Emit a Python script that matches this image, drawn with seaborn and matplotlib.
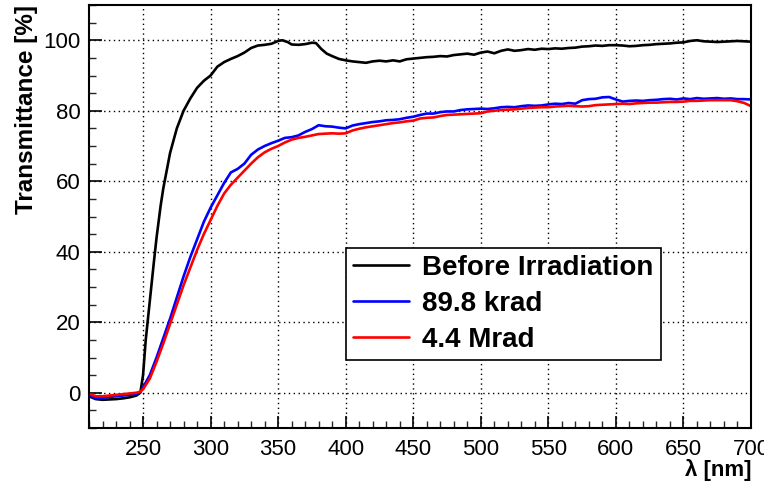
import numpy as np
import pandas as pd
import matplotlib
matplotlib.use("Agg")
import matplotlib.pyplot as plt
from matplotlib.ticker import MultipleLocator
import seaborn as sns

# ---------------- data ----------------
series_names = ["Before Irradiation", "89.8 krad", "4.4 Mrad"]
series_colors = ["black", "#0000ff", "#ff0000"]

wl_before = [210, 215, 220, 225, 230, 235, 240, 245,
             248, 250, 252, 255, 258, 260, 263, 265, 268, 270,
             275, 280, 285, 290, 295, 300, 305, 310, 315, 320, 325, 330, 335, 340, 345, 350,
             353, 357, 360, 365, 370, 375, 378, 382, 386, 390, 395, 400,
             405, 410, 415, 420, 425, 430, 435, 440, 445, 450,
             455, 460, 465, 470, 475, 480, 485, 490, 495, 500,
             505, 510, 515, 520, 525, 530, 535, 540, 545, 550,
             555, 560, 565, 570, 575, 580, 585, 590, 595, 600,
             605, 610, 615, 620, 625, 630, 635, 640, 645, 650,
             655, 660, 665, 670, 675, 680, 685, 690, 695, 700]
t_before = [-1.0, -1.8, -2.0, -1.9, -1.8, -1.6, -1.3, -0.8,
            0.0, 5, 15, 26, 37, 44, 53, 58, 64, 68,
            75, 80, 83.5, 86.5, 88.5, 90, 92.5, 93.8, 94.7, 95.5, 96.5, 97.8, 98.5, 98.7, 99.0, 99.8,
            100, 99.5, 98.8, 98.7, 98.9, 99.3, 99.2, 97.5, 96.2, 95.5, 94.7, 94.3,
            94.0, 93.8, 93.6, 94.0, 94.2, 94.0, 94.3, 94.0, 94.6, 94.8,
            95.0, 95.2, 95.3, 95.5, 95.4, 95.8, 96.0, 96.2, 95.9, 96.5,
            96.8, 96.3, 97.0, 97.4, 97.0, 97.2, 97.5, 97.3, 97.6, 97.5,
            97.7, 97.6, 97.8, 97.9, 98.2, 98.3, 98.5, 98.4, 98.6, 98.6,
            98.5, 98.3, 98.4, 98.6, 98.7, 98.9, 99.0, 99.1, 99.3, 99.4,
            99.8, 100.0, 99.7, 99.6, 99.5, 99.6, 99.7, 99.8, 99.7, 99.6]

wl_irr = [210, 215, 220, 225, 230, 235, 240, 245, 248,
          250, 255, 260, 265, 270, 275, 280, 285, 290, 295,
          300, 305, 310, 315, 320, 325, 330, 335, 340, 345,
          350, 355, 360, 365, 370, 375, 380, 385, 390, 395,
          400, 405, 410, 415, 420, 425, 430, 435, 440, 445,
          450, 455, 460, 465, 470, 475, 480, 485, 490, 495,
          500, 505, 510, 515, 520, 525, 530, 535, 540, 545,
          550, 555, 560, 565, 570, 575, 580, 585, 590, 595,
          600, 605, 610, 615, 620, 625, 630, 635, 640, 645,
          650, 655, 660, 665, 670, 675, 680, 685, 690, 695, 700]
t_krad = [-0.8, -1.5, -1.4, -1.2, -1.0, -0.8, -0.6, -0.3, 0.2,
          1.5, 5, 10, 15.5, 21, 27, 33, 38.5, 43.5, 48.5,
          52.5, 56, 59.5, 62.5, 63.5, 65, 67.5, 69, 70, 70.8,
          71.5, 72.3, 72.5, 73, 74, 74.8, 75.9, 75.6, 75.5, 75.2,
          75.0, 75.8, 76.2, 76.5, 76.8, 77.0, 77.3, 77.4, 77.6, 78.0,
          78.3, 78.8, 79.2, 79.2, 79.6, 79.8, 79.8, 80.2, 80.4, 80.5,
          80.6, 80.5, 80.7, 81.0, 81.1, 81.0, 81.3, 81.5, 81.4, 81.5,
          81.8, 82.0, 81.9, 82.2, 82.0, 83.0, 83.3, 83.4, 83.8, 83.9,
          83.2, 82.6, 82.8, 82.9, 82.8, 83.0, 83.1, 83.3, 83.4, 83.2,
          83.5, 83.3, 83.6, 83.4, 83.5, 83.6, 83.4, 83.5, 83.3, 83.3, 83.2]
t_mrad = [-0.3, -1.0, -1.0, -0.8, -0.6, -0.4, -0.2, 0.0, 0.3,
          1.0, 4, 8.8, 14, 19.5, 25, 30.5, 35.5, 40.5, 45,
          49, 53, 56.5, 59, 61, 63, 65, 66.8, 68.2, 69.2,
          70, 71, 71.8, 72.3, 72.6, 73.0, 73.4, 73.5, 73.6, 73.5,
          73.6, 74.4, 74.9, 75.3, 75.6, 75.9, 76.2, 76.5, 76.7, 77.0,
          77.2, 77.8, 78.0, 78.1, 78.5, 78.8, 78.9, 79.0, 79.1, 79.2,
          79.3, 79.8, 80.0, 80.2, 80.3, 80.4, 80.6, 80.8, 80.9, 81.0,
          81.0, 81.2, 81.3, 81.4, 81.3, 81.2, 81.3, 81.6, 81.7, 81.8,
          81.9, 82.0, 81.9, 82.1, 82.2, 82.3, 82.3, 82.4, 82.5, 82.5,
          82.6, 82.8, 82.8, 82.9, 83.0, 83.0, 83.0, 83.0, 82.7, 82.2, 81.3]

x_ticks = [250, 300, 350, 400, 450, 500, 550, 600, 650, 700]
y_ticks = [0, 20, 40, 60, 80, 100]

# ---------------- build table ----------------
df = pd.concat([
    pd.DataFrame({"wl": wl_before, "T": t_before, "s": series_names[0]}),
    pd.DataFrame({"wl": wl_irr, "T": t_krad, "s": series_names[1]}),
    pd.DataFrame({"wl": wl_irr, "T": t_mrad, "s": series_names[2]}),
], ignore_index=True)

sns.set_style("ticks")
plt.rcParams["font.family"] = ["Liberation Sans", "DejaVu Sans"]
plt.rcParams["text.color"] = "black"
plt.rcParams["axes.labelcolor"] = "black"

fig = plt.figure(figsize=(7.64, 4.82), dpi=100)
ax = fig.add_axes([89 / 764, 1 - 428 / 482, (751 - 89) / 764, (428 - 5) / 482])

sns.lineplot(data=df, x="wl", y="T", hue="s", hue_order=series_names,
             palette=dict(zip(series_names, series_colors)),
             estimator=None, sort=False, linewidth=1.9, ax=ax, legend=False)

ax.set_xlim(210, 700)
ax.set_ylim(-10, 110)
ax.set_xticks(x_ticks)
ax.set_yticks(y_ticks)
ax.xaxis.set_minor_locator(MultipleLocator(10))
ax.yaxis.set_minor_locator(MultipleLocator(5))
ax.tick_params(axis="both", which="major", direction="in", length=9, width=1.2,
               labelsize=16, colors="black", pad=6)
ax.tick_params(axis="both", which="minor", direction="in", length=5, width=1.0)
ax.tick_params(axis="x", which="major", pad=8)
ax.grid(True, which="major", linestyle=(0, (1, 2.5)), color="black", linewidth=1.0)
for sp in ax.spines.values():
    sp.set_visible(True)
    sp.set_linewidth(1.5)
    sp.set_color("black")

ax.set_xlabel("λ [nm]", fontsize=16, fontweight="bold", ha="right", x=1.0,
              labelpad=-1, color="black")
ax.set_ylabel("Transmittance [%]", fontsize=17.5, fontweight="bold", ha="right", y=1.0,
              labelpad=4, color="black")

handles = [plt.Line2D([], [], color=c, linewidth=1.9) for c in series_colors]
leg = ax.legend(handles, series_names, loc="upper left",
                bbox_to_anchor=((346 - 89) / 662, (428 - 248) / 423),
                prop={"size": 20, "weight": "bold"}, frameon=True, fancybox=False,
                edgecolor="black", framealpha=1, handlelength=2.0, handletextpad=0.5,
                labelspacing=0.36, borderpad=0.25, borderaxespad=0)
leg.get_frame().set_linewidth(1.2)
for t in leg.get_texts():
    t.set_color("black")

fig.savefig("out.png", dpi=100)
